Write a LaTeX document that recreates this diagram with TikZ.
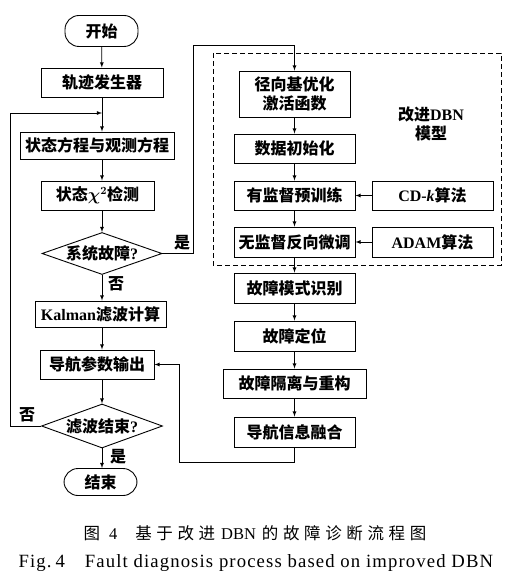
\documentclass[tikz,border=0pt]{standalone}
\usepackage{fontspec}
\setmainfont{Liberation Serif}
\newfontfamily\cjk{Noto Sans CJK SC}
\newfontfamily\capcjk[LetterSpace=28]{Noto Sans CJK SC}
\newfontfamily\capfont[LetterSpace=6]{Liberation Serif}
\usepackage{tikz}
\usetikzlibrary{shapes.geometric}
\newcommand{\lat}[1]{{\rmfamily #1}}

\begin{document}
\begin{tikzpicture}[x=1pt,y=-1pt,>=latex,
  every node/.style={font=\cjk\bfseries\fontsize{16}{18.5}\selectfont},
  box/.style={draw,line width=0.9pt,inner sep=0pt,minimum height=29,align=center},
  term/.style={box,rounded corners=14},
  cond/.style={diamond,draw,line width=0.9pt,aspect=2.8,inner sep=0pt,minimum width=120,minimum height=42},
  flow/.style={->,line width=0.8pt},
  lab/.style={inner sep=0pt}]
\useasboundingbox (0,0) rectangle (514,585);
\coordinate (trunk) at (102,0);
\coordinate (left) at (10,0);
\coordinate (join) at (102,113);

\node[term,minimum width=73,minimum height=31] (start) at (101.5,31) {开始};
\node[box,minimum width=122] (traj) at (102,82.5) {轨迹发生器};
\node[box,minimum width=154,minimum height=27] (state) at (97,145.5) {状态方程与观测方程};
\node[box,minimum width=113] (chi) at (97.5,195.5) {状态{\boldmath$\chi^{2}$}检测};
\node[cond] (fault) at (102,253.5) {系统故障\lat{?}};
\node[box,minimum width=131,minimum height=26] (kalman) at (100.5,314) {\lat{Kalman}滤波计算};
\node[box,minimum width=114] (navout) at (97,364.5) {导航参数输出};
\node[cond,minimum width=121,minimum height=44] (done) at (102,426) {滤波结束\lat{?}};
\node[term,minimum width=73,minimum height=27] (stop) at (100.5,482) {结束};

\draw[line width=0.9pt,dash pattern=on 5pt off 3pt] (213,53) rectangle (501,265);
\node[align=center] (dbn) at (431,124) {改进\lat{DBN}\\模型};
\node[box,minimum width=111,minimum height=46] (rbf) at (294.5,94) {径向基优化\\激活函数};
\node[box,minimum width=121] (init) at (294.5,148.5) {数据初始化};
\node[box,minimum width=121] (pre) at (294.5,195.5) {有监督预训练};
\node[box,minimum width=121,minimum height=30] (tune) at (294.5,242) {无监督反向微调};
\node[box,minimum width=121] (cdk) at (432.5,195.5) {\lat{CD-\textit{k}}算法};
\node[box,minimum width=121,minimum height=30] (adam) at (432.5,242) {\lat{ADAM}算法};
\node[box,minimum width=121,minimum height=30] (mode) at (294.5,288) {故障模式识别};
\node[box,minimum width=121,minimum height=30] (locate) at (294.5,336) {故障定位};
\node[box,minimum width=143] (isolate) at (294.5,383.5) {故障隔离与重构};
\node[box,minimum width=121,minimum height=30] (fuse) at (294.5,432) {导航信息融合};

\draw[flow] (start) -- (traj);
\draw[flow] (traj.south) -- (traj.south |- state.north);
\draw[flow] (state.south -| trunk) -- (chi.north -| trunk);
\draw[flow] (chi.south -| trunk) -- (fault.north);
\draw[flow] (fault.south) -- (fault.south |- kalman.north);
\draw[flow] (kalman.south -| trunk) -- (navout.north -| trunk);
\draw[flow] (navout.south -| trunk) -- (done.north);
\draw[flow] (done.south) -- (done.south |- stop.north);
\draw[flow] (done.west) -- (done.west -| left) |- (join);
\draw[flow] (fault.east) -- (193,253.5) |- (294.5,45) -- (rbf.north);
\draw[flow] (rbf) -- (init);
\draw[flow] (init) -- (pre);
\draw[flow] (pre) -- (tune);
\draw[flow] (tune) -- (mode);
\draw[flow] (mode) -- (locate);
\draw[flow] (locate) -- (isolate);
\draw[flow] (isolate) -- (fuse);
\draw[flow] (cdk) -- (pre);
\draw[flow] (adam) -- (tune);
\draw[flow] (fuse.south) -- (294.5,462) -| (179,364.5) -- (navout.east);

\node[lab] (yes1) at (182,243) {是};
\node[lab] (no1) at (116,284) {否};
\node[lab] (no2) at (27,415) {否};
\node[lab] (yes2) at (118,457) {是};

\node[anchor=west,font=\capcjk\fontsize{16.5}{18}\selectfont] (capcn) at (80,533) {图\hspace{9pt}\lat{4}\hspace{18pt}基于改进\lat{\hspace{6pt}DBN\hspace{6pt}}的故障诊断流程图};
\node[anchor=west,font=\capfont\fontsize{18.7}{20}\selectfont] (capen) at (15,563) {Fig.\hspace{4pt}4\hspace{20pt}Fault diagnosis process based on improved DBN};
\end{tikzpicture}
\end{document}
